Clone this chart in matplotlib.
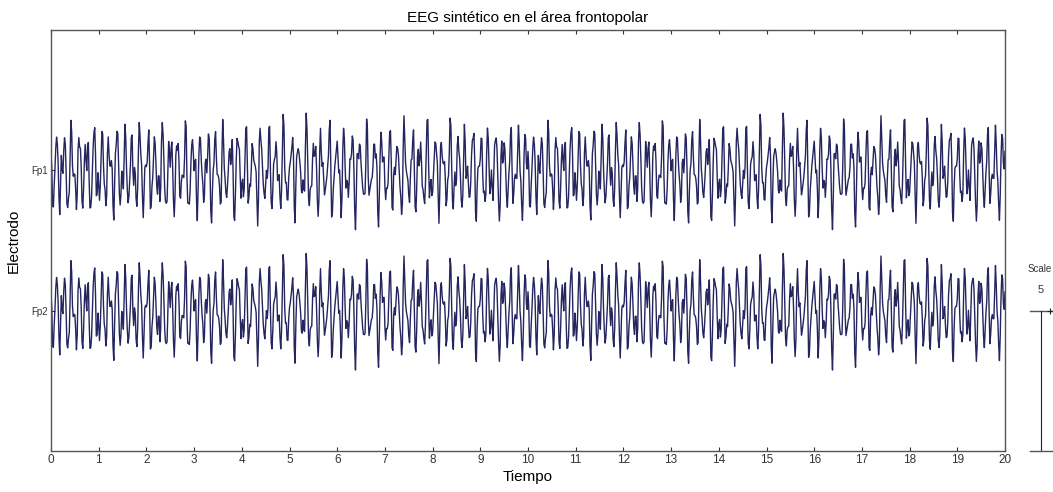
import numpy as np
import matplotlib
matplotlib.use("Agg")
import matplotlib.pyplot as plt

# ---- data ----
channels = ["Fp1", "Fp2"]
spacing = 5
duration = 20
fs = 60
# estimated sinusoidal components of the synthetic EEG (Hz, amplitude, phase)
comp_freqs = [6.3, 10.3, 14.2, 19.5, 4.3]
comp_amps = [1.05, 0.5, 0.42, 0.18, 0.15]
comp_phases = [3.3, 0.4, 1.2, 0.7, 2.0]
xticks = list(range(0, 21))

t = np.arange(0, duration * fs + 1) / fs
sig = np.zeros_like(t)
for f, a, p in zip(comp_freqs, comp_amps, comp_phases):
    sig += a * np.sin(2 * np.pi * f * t + p)

plt.rcParams['font.family'] = ['Liberation Sans', 'DejaVu Sans']
fig = plt.figure(figsize=(10.53, 4.92), dpi=100)
ax = fig.add_axes([51/1053, 41/492, 954/1053, 421/492])

n = len(channels)
offsets = [spacing * (n - i) for i in range(n)]
for off in offsets:
    ax.plot(t, sig + off, color='#25255f', lw=1.0)

ax.set_xlim(0, duration)
ax.set_ylim(0, spacing * (n + 1))
ax.set_xticks(xticks)
ax.set_xticklabels([str(v) for v in xticks], fontsize=8.5, color='#333333')
ax.set_yticks(offsets)
ax.set_yticklabels(channels, fontsize=7, color='#333333')
ax.tick_params(direction='in', length=3, top=True, right=False, width=0.8, color='#333333', pad=2)
for s in ax.spines.values():
    s.set_color('#555555')
    s.set_linewidth(1.0)

ax.set_title("EEG sintético en el área frontopolar", fontsize=11, pad=6)
ax.set_xlabel("Tiempo", fontsize=11, labelpad=3)
ax.set_ylabel("Electrodo", fontsize=11, labelpad=8)

# scale bar
xb = duration + 0.75
ax.plot([xb - 0.23, xb + 0.25], [spacing, spacing], color='#555555', lw=1, clip_on=False)
ax.plot([xb, xb], [0, spacing], color='#222222', lw=0.8, clip_on=False)
ax.plot([xb - 0.23, xb + 0.25], [0, 0], color='#555555', lw=1, clip_on=False)
ax.plot([xb + 0.2], [spacing], marker='+', color='#222222', ms=5, mew=0.8, clip_on=False)
ax.text(xb - 0.27, spacing + 1.5, "Scale", fontsize=7, ha='left', va='center', color='#333333', clip_on=False)
ax.text(xb, spacing + 0.75, str(spacing), fontsize=8, ha='center', va='center', color='#333333', clip_on=False)

fig.savefig("out.png", dpi=100)
